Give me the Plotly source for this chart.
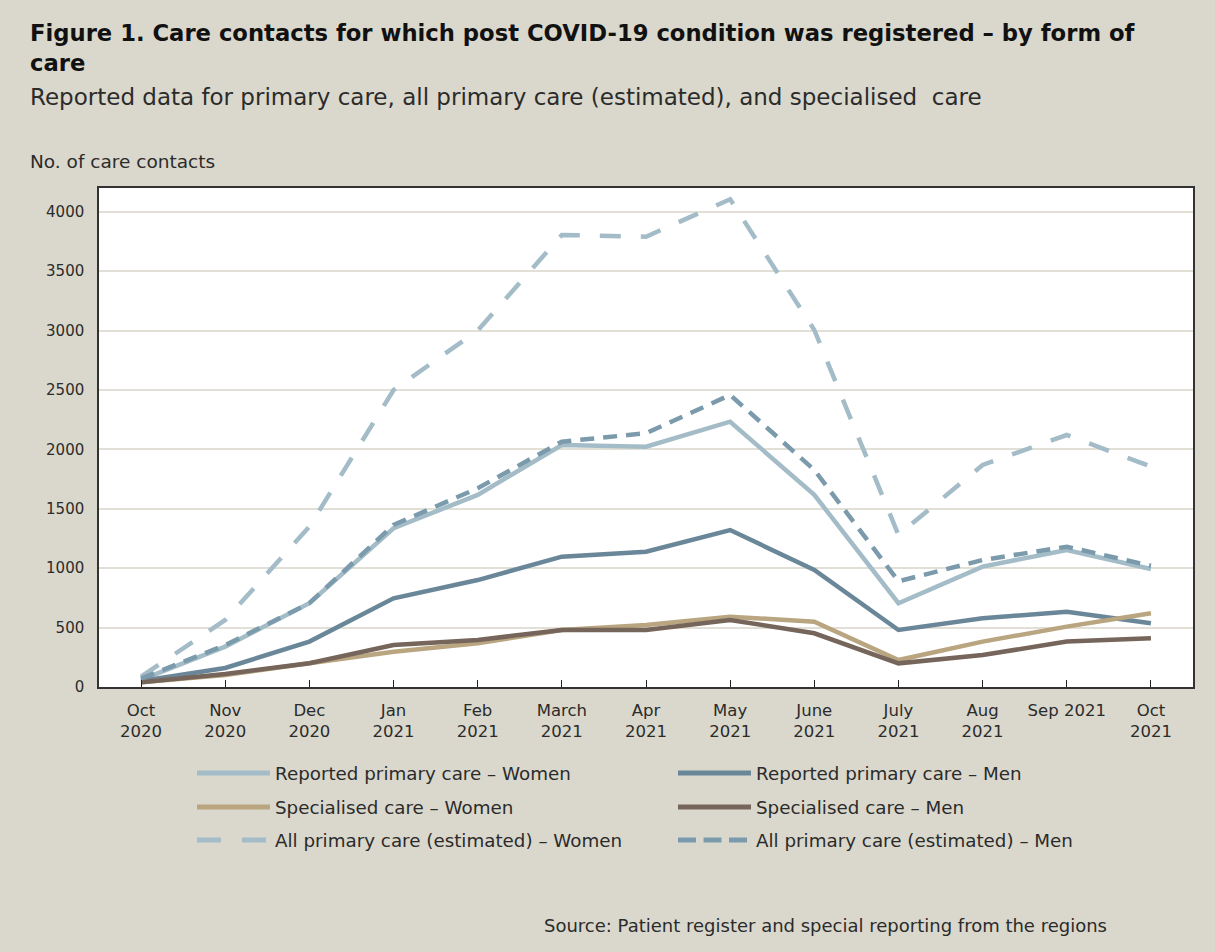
import plotly.graph_objects as go

months = ["Oct<br>2020", "Nov<br>2020", "Dec<br>2020", "Jan<br>2021", "Feb<br>2021",
          "March<br>2021", "Apr<br>2021", "May<br>2021", "June<br>2021", "July<br>2021",
          "Aug<br>2021", "Sep 2021", "Oct<br>2021"]

reported_women = [60, 340, 705, 1336, 1617, 2037, 2023, 2233, 1617, 705, 1013, 1153, 993]
reported_men = [50, 160, 382, 746, 900, 1097, 1139, 1321, 985, 480, 578, 634, 536]
special_women = [40, 101, 200, 297, 368, 480, 522, 592, 550, 227, 382, 508, 620]
special_men = [40, 110, 200, 353, 396, 480, 480, 564, 452, 199, 269, 382, 410]
all_women = [87, 564, 1350, 2500, 3000, 3805, 3790, 4105, 3005, 1280, 1869, 2121, 1855]
all_men = [71, 353, 705, 1364, 1673, 2065, 2136, 2458, 1827, 890, 1069, 1181, 1020]

names = {
    "rw": "Reported primary care – Women",
    "rm": "Reported primary care – Men",
    "sw": "Specialised care – Women",
    "sm": "Specialised care – Men",
    "aw": "All primary care (estimated) – Women",
    "am": "All primary care (estimated) – Men",
}

C_RW = "#A3BCC7"
C_RM = "#6A8799"
C_SW = "#B9A57F"
C_SM = "#76655A"
C_AW = "#A3BCC7"
C_AM = "#7B9BAD"
BG = "#DAD8CC"
FONT = "'DejaVu Sans', sans-serif"
TXT = "#2b2b2b"

DASH_AW = "21px,20px"
DASH_AM = "14px,9px"

series = [
    ("aw", all_women, C_AW, DASH_AW),
    ("rw", reported_women, C_RW, "solid"),
    ("rm", reported_men, C_RM, "solid"),
    ("sw", special_women, C_SW, "solid"),
    ("sm", special_men, C_SM, "solid"),
    ("am", all_men, C_AM, DASH_AM),
]

fig = go.Figure()
for key, vals, col, dash in series:
    fig.add_trace(go.Scatter(
        x=list(range(len(months))), y=vals, mode="lines", name=names[key],
        line=dict(color=col, width=4.5, dash=dash), showlegend=False,
        hoverinfo="skip"))

# plot area in pixels
L, R, T, B = 99, 1193, 188, 687
W, H = 1215, 952


def px(x):
    return (x - L) / (R - L)


def py(y):
    return (B - y) / (B - T)


shapes = []
annotations = []

legend_items = [
    ("rw", C_RW, "solid", 197, 773),
    ("sw", C_SW, "solid", 197, 807),
    ("aw", C_AW, "24px,21px", 197, 840),
    ("rm", C_RM, "solid", 678, 773),
    ("sm", C_SM, "solid", 678, 807),
    ("am", C_AM, "18px,7.5px", 678, 840),
]
for key, col, dash, x0, y0 in legend_items:
    shapes.append(dict(type="line", xref="paper", yref="paper",
                       x0=px(x0), x1=px(x0 + 73), y0=py(y0), y1=py(y0),
                       line=dict(color=col, width=5, dash=dash)))
    annotations.append(dict(text=names[key], xref="paper", yref="paper",
                            x=px(x0 + 76), y=py(y0), xanchor="left", yanchor="middle",
                            showarrow=False, font=dict(family=FONT, size=18.3, color=TXT)))

annotations.append(dict(
    text="<b>Figure 1. Care contacts for which post COVID-19 condition was registered – by form of<br>care</b>",
    xref="paper", yref="paper", x=px(28), y=py(18), xanchor="left", yanchor="top",
    align="left", showarrow=False, font=dict(family=FONT, size=22.7, color="#111111")))
annotations.append(dict(
    text="Reported data for primary care, all primary care (estimated), and specialised  care",
    xref="paper", yref="paper", x=px(28), y=py(97), xanchor="left", yanchor="middle",
    showarrow=False, font=dict(family=FONT, size=23, color=TXT)))
annotations.append(dict(
    text="No. of care contacts", xref="paper", yref="paper", x=px(28), y=py(162),
    xanchor="left", yanchor="middle", showarrow=False,
    font=dict(family=FONT, size=18.5, color=TXT)))
annotations.append(dict(
    text="Source: Patient register and special reporting from the regions",
    xref="paper", yref="paper", x=px(1109), y=py(925), xanchor="right", yanchor="middle",
    showarrow=False, font=dict(family=FONT, size=18, color=TXT)))

fig.update_layout(
    width=W, height=H,
    margin=dict(l=L, r=W - R, t=T, b=H - B, pad=0),
    paper_bgcolor=BG, plot_bgcolor="white",
    font=dict(family=FONT, size=16, color=TXT),
    shapes=shapes, annotations=annotations,
    showlegend=False,
    xaxis=dict(
        tickmode="array", tickvals=list(range(len(months))), ticktext=months,
        range=[-0.5, len(months) - 0.5], tickson="boundaries",
        ticks="inside", ticklen=7, tickcolor="#222", tickwidth=1,
        showgrid=False, showline=True, linecolor="#333", linewidth=1.5, mirror=True,
        tickfont=dict(size=16.5, color=TXT), zeroline=False, fixedrange=True,
        ticklabelstandoff=7),
    yaxis=dict(
        range=[0, 4200], tickmode="array", tickvals=list(range(0, 4001, 500)),
        showgrid=True, gridcolor="#E2E0D6", gridwidth=1.5,
        showline=True, linecolor="#333", linewidth=1.5, mirror=True,
        ticks="", tickfont=dict(size=15, color=TXT), zeroline=False,
        ticklabelstandoff=10, fixedrange=True),
)

fig.write_html("out.html")
